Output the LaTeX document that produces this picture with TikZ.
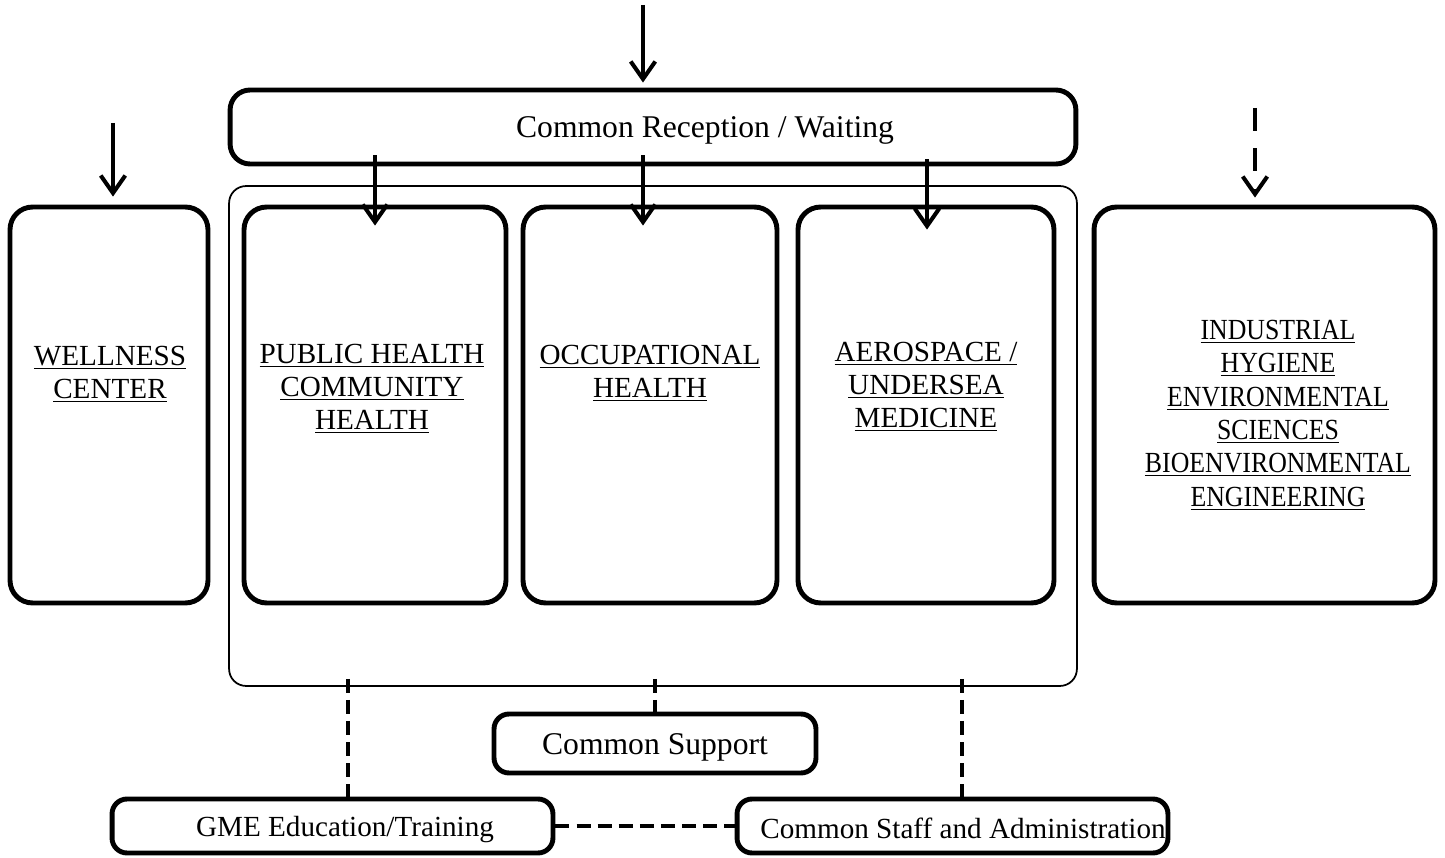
\documentclass[tikz,border=0pt]{standalone}
\usepackage{fontspec}
\setmainfont{Liberation Serif}
\newfontfamily\narrowserif[FakeStretch=0.885]{Liberation Serif}
\usetikzlibrary{arrows.meta,calc}

\newcommand{\undl}[1]{\underline{#1}}

\tikzstyle{big box}=[
        draw = black,
        line width = 2.8pt,
        rounded corners = 0.45cm,
        inner sep = 0pt
    ]
\tikzstyle{small box}=[
    draw = black,
    line width = 2.8pt,
    rounded corners = 0.3cm,
    inner sep = 0pt
]
\tikzstyle{label text}=[
    align = center,
    inner sep = 0pt,
    font = \fontsize{16.6}{18.8}\selectfont
]
\tikzstyle{flow}=[line width = 2.3pt, -{Straight Barb[length=10pt,width=14pt]}]
\tikzstyle{link}=[line width = 2.3pt, dash pattern = on 8pt off 4pt]

\begin{document}
\begin{tikzpicture}[x=0.02cm, y=-0.02cm]
        \useasboundingbox (0,0) rectangle (1445,858);

        % boxes
        \node[big box, rounded corners=0.4cm, minimum width=16.92cm, minimum height=1.48cm] (rec) at (653,127) {};
        \node[draw, line width=1pt, rounded corners=0.34cm, minimum width=16.96cm, minimum height=10cm] (outer) at (653,436) {};
        \node[big box, minimum width=3.96cm, minimum height=7.92cm] (well) at (109,405) {};
        \node[big box, minimum width=5.24cm, minimum height=7.92cm] (pub) at (375,405) {};
        \node[big box, minimum width=5.08cm, minimum height=7.92cm] (occ) at (650,405) {};
        \node[big box, minimum width=5.12cm, minimum height=7.92cm] (aero) at (926,405) {};
        \node[big box, minimum width=6.82cm, minimum height=7.92cm] (ind) at (1264.5,405) {};
        \node[small box, minimum width=6.44cm, minimum height=1.18cm] (sup) at (655,743.5) {};
        \node[small box, minimum width=8.82cm, minimum height=1.08cm] (gme) at (332.5,826) {};
        \node[small box, minimum width=8.62cm, minimum height=1.08cm] (staff) at (952.5,826) {};

        % texts
        \node[label text, font=\fontsize{18}{21}\selectfont] (rectxt) at (705,130) {Common Reception / Waiting};
        \node[label text] (welltxt) at (110,374) {\undl{WELLNESS}\\\undl{CENTER}};
        \node[label text] (pubtxt) at (372,389) {\undl{PUBLIC HEALTH}\\\undl{COMMUNITY}\\\undl{HEALTH}};
        \node[label text] (occtxt) at (650,373) {\undl{OCCUPATIONAL}\\\undl{HEALTH}};
        \node[label text] (aerotxt) at (926,387) {\undl{AEROSPACE /}\\\undl{UNDERSEA}\\\undl{MEDICINE}};
        \node[label text, font=\narrowserif\fontsize{16.6}{19}\selectfont] (indtxt) at (1278,415)
            {\undl{INDUSTRIAL}\\\undl{HYGIENE}\\\undl{ENVIRONMENTAL}\\\undl{SCIENCES}\\\undl{BIOENVIRONMENTAL}\\\undl{ENGINEERING}};
        \node[label text, font=\fontsize{18}{21}\selectfont] (suptxt) at (655,747) {Common Support};
        \node[label text] (gmetxt) at (345,830) {GME Education/Training};
        \node[label text] (stafftxt) at (963,828) {Common Staff and Administration};

        % entries
        \coordinate (topin) at (643,5);
        \coordinate (wellin) at (113,123);
        \coordinate (indin) at (1255,108);

        \draw[flow, shorten >=0.1cm] (topin) -- (topin |- rec.north);
        \draw[flow, shorten >=0.16cm] (wellin) -- (wellin |- well.north);
        \draw[flow, shorten >=0.14cm, dash pattern=on 13pt off 10pt] (indin) -- (indin |- ind.north);

        \draw[flow, shorten <=-0.22cm, shorten >=-0.42cm] (rec.south -| pub.north) -- (pub.north);
        \draw[flow, shorten <=-0.22cm, shorten >=-0.42cm] (rec.south -| topin) -- (occ.north -| topin);
        \draw[flow, shorten <=-0.14cm, shorten >=-0.5cm] ($(rec.south -| aero.north)+(1,0)$) -- ($(aero.north)+(1,0)$);

        % links
        \draw[link, shorten <=-0.16cm] ($(outer.south -| gme.north)+(15.5,0)$) -- ($(gme.north)+(15.5,0)$);
        \draw[link, shorten <=-0.16cm, shorten >=-0.14cm] (outer.south -| sup.north) -- (sup.north);
        \draw[link, shorten <=-0.16cm] ($(outer.south -| staff.north)+(9.5,0)$) -- ($(staff.north)+(9.5,0)$);
        \draw[link] (gme.east) -- (staff.west);

    \end{tikzpicture}
\end{document}
